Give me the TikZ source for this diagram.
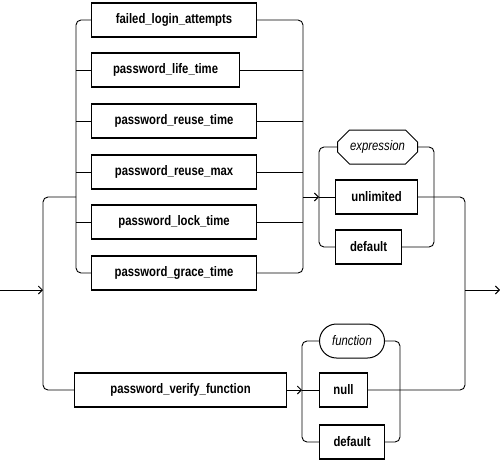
\documentclass[tikz,border=0pt]{standalone}
\usepackage{fontspec}
\setmainfont{Liberation Sans}[FakeStretch=0.82]
\usepackage{tikz}
\usetikzlibrary{arrows.meta, shapes.misc}

\begin{document}
\begin{tikzpicture}[x=1pt, y=-1pt, >={Straight Barb[length=4pt,width=8pt]},
    kw/.style={draw, line width=1.1pt, anchor=west, minimum height=34pt,
        inner sep=0pt, font=\bfseries\fontsize{13.8}{15}\selectfont},
    var/.style={draw, line width=1pt, anchor=west, minimum height=34pt,
        inner sep=0pt, font=\itshape\fontsize{13.8}{15}\selectfont},
    rail/.style={line width=0.9pt, rounded corners=5pt}]

    \useasboundingbox (0,0) rectangle (500,463);

    % =================================================================
    % 1. RAIL POSITIONS
    % =================================================================
    \coordinate (S) at (0,290);     % entry
    \coordinate (E) at (500,290);   % exit
    \coordinate (M) at (43,197);    % main spine
    \coordinate (GL) at (76,197);   % left rail of the parameter list
    \coordinate (GR) at (303,197);  % right rail of the parameter list
    \coordinate (XL) at (319,197);  % left rail of the value list
    \coordinate (XR) at (434,197);  % right rail of the value list
    \coordinate (R) at (465,197);   % right spine
    \coordinate (FL) at (302,390);  % left rail of the function list
    \coordinate (FR) at (400,390);  % right rail of the function list

    % =================================================================
    % 2. BOXES
    % =================================================================
    \node[kw, minimum width=165pt] (fla) at (91,20) {failed\_login\_attempts};
    \node[kw, minimum width=148pt] (plt) at (91,70) {password\_life\_time};
    \node[kw, minimum width=165pt] (prt) at (91,121) {password\_reuse\_time};
    \node[kw, minimum width=165pt] (prm) at (91,172) {password\_reuse\_max};
    \node[kw, minimum width=165pt] (plk) at (91,222) {password\_lock\_time};
    \node[kw, minimum width=165pt] (pgt) at (91,273) {password\_grace\_time};

    \node[var, chamfered rectangle, chamfered rectangle xsep=6pt,
        chamfered rectangle ysep=6pt, minimum width=80pt] (expr) at (337,147) {expression};
    \node[kw, minimum width=82pt] (unl) at (335,197) {unlimited};
    \node[kw, minimum width=66pt] (dfe) at (335,247) {default};

    \node[kw, minimum width=212pt] (pvf) at (74,390) {password\_verify\_function};
    \node[var, rounded rectangle, minimum width=65pt] (fun) at (319,341) {function};
    \node[kw, minimum width=48pt] (nul) at (319,390) {null};
    \node[kw, minimum width=65pt] (dff) at (319,442) {default};

    % =================================================================
    % 3. RAILS
    % =================================================================
    % parameter list
    \draw[rail] (fla.west) -| (GL |- pgt.west) -- (pgt.west);
    \draw[rail] (fla.east) -| (GR |- pgt.east) -- (pgt.east);
    \foreach \n in {plt, prt, prm, plk} {
        \draw[rail] (\n.west) -- (GL |- \n.west);
        \draw[rail] (\n.east) -- (GR |- \n.east);
    }

    % entry and main spine
    \draw[rail, ->] (S) -- (M |- S);
    \draw[rail] (GL) -| (M |- pvf.west) -- (pvf.west);

    % value list
    \draw[rail, ->] (GR) -- (XL);
    \draw[rail] (XL) -- (unl.west);
    \draw[rail] (expr.west) -| (XL |- dfe.west) -- (dfe.west);
    \draw[rail] (expr.east) -| (XR |- dfe.east) -- (dfe.east);

    % function list
    \draw[rail, ->] (pvf.east) -- (FL);
    \draw[rail] (FL) -- (nul.west);
    \draw[rail] (fun.west) -| (FL |- dff.west) -- (dff.west);
    \draw[rail] (fun.east) -| (FR |- dff.east) -- (dff.east);

    % right spine and exit
    \draw[rail] (unl.east) -| (R |- nul.east) -- (nul.east);
    \draw[rail, ->] (R |- S) -- (E);

\end{tikzpicture}
\end{document}
